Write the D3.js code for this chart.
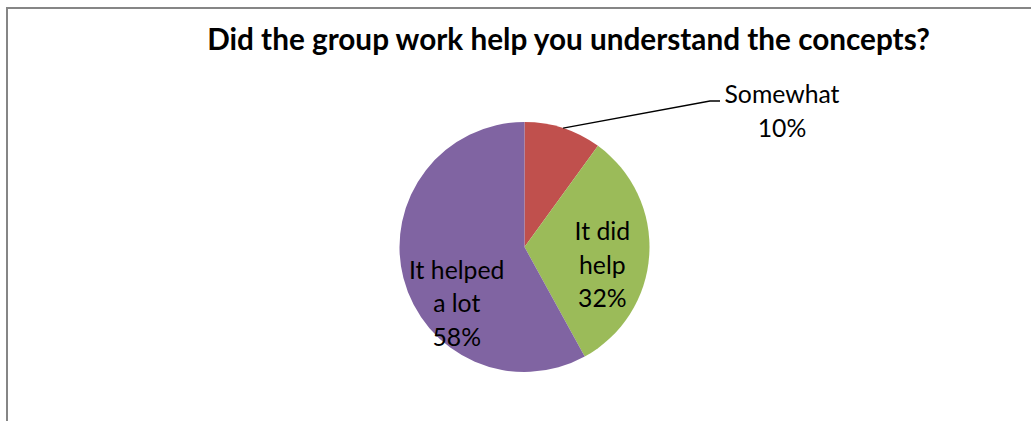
<!DOCTYPE html>
<html>
<head>
<meta charset="utf-8">
<script src="https://cdn.jsdelivr.net/npm/d3@7"></script>
<style>
  html, body { margin: 0; padding: 0; background: #fff; }
  svg { display: block; }
  text { font-family: Lato, "Open Sans", sans-serif; fill: #000; }
</style>
</head>
<body>
<svg id="chart" width="1031" height="421"></svg>
<script>
// Survey answers and their shares (percent)
const categories = ["Somewhat", "It did help", "It helped a lot"];
const values = [10, 32, 58];
const labelLines = [["Somewhat", "10%"], ["It did", "help", "32%"], ["It helped", "a lot", "58%"]];
const colors = ["#C0504D", "#9BBB59", "#8064A2"];
const title = "Did the group work help you understand the concepts?";

const W = 1031, H = 421;
const svg = d3.select("#chart");

// chart area frame (runs past the right and bottom edges)
svg.append("rect")
  .attr("x", 7).attr("y", 8)
  .attr("width", W + 20).attr("height", H + 20)
  .attr("fill", "#fff")
  .attr("stroke", "#868686")
  .attr("stroke-width", 2);

// fit a text element to a target width
function fitWidth(sel, target, startSize) {
  sel.attr("font-size", startSize);
  const w = sel.node().getComputedTextLength();
  const size = startSize * target / w;
  sel.attr("font-size", size);
  return size;
}

// title
const t = svg.append("text")
  .attr("x", 568.5).attr("y", 50)
  .attr("text-anchor", "middle")
  .attr("font-weight", "bold")
  .text(title);
fitWidth(t, 723, 24);

// pie
const cx = 524.5, cy = 247, R = 125;
const g = svg.append("g").attr("transform", `translate(${cx},${cy})`);
const pie = d3.pie().sort(null).value(d => d.value);
const data = pie(categories.map((c, i) => ({ cat: c, value: values[i], lines: labelLines[i], color: colors[i] })));
const arc = d3.arc().innerRadius(0).outerRadius(R);

g.selectAll("path.slice")
  .data(data)
  .join("path")
  .attr("class", "slice")
  .attr("d", arc)
  .attr("fill", d => d.data.color);

// label font size from a reference word width
const probe = svg.append("text").text(labelLines[0][0]);
const labelSize = fitWidth(probe, 115, 20);
probe.remove();
const lineH = 33.5;
const capHalf = labelSize * 0.36;

// label placement: radius along slice bisector + vertical shift, or outside with leader
const placement = [
  { outside: true, elbow: [710 - cx, 101 - cy], end: [720 - cx, 101 - cy], text: [782 - cx, 103 - cy] },
  { r: 78, dy: 13 },
  { r: 70, dy: 39 }
];

data.forEach((d, i) => {
  const p = placement[i];
  const lines = d.data.lines;
  if (p.outside) {
    const edge = d3.arc().innerRadius(R).outerRadius(R).centroid(d);
    g.append("polyline")
      .attr("points", [edge, p.elbow, p.end].map(q => q.join(",")).join(" "))
      .attr("fill", "none")
      .attr("stroke", "#000")
      .attr("stroke-width", 1.5);
    lines.forEach((ln, j) => {
      g.append("text")
        .attr("x", p.text[0])
        .attr("y", p.text[1] + j * lineH)
        .attr("text-anchor", "middle")
        .attr("font-size", labelSize)
        .text(ln);
    });
  } else {
    const c = d3.arc().innerRadius(p.r).outerRadius(p.r).centroid(d);
    const mid = c[1] + p.dy;
    const n = lines.length;
    lines.forEach((ln, j) => {
      g.append("text")
        .attr("x", c[0])
        .attr("y", mid + (j - (n - 1) / 2) * lineH + capHalf)
        .attr("text-anchor", "middle")
        .attr("font-size", labelSize)
        .text(ln);
    });
  }
});
</script>
</body>
</html>
